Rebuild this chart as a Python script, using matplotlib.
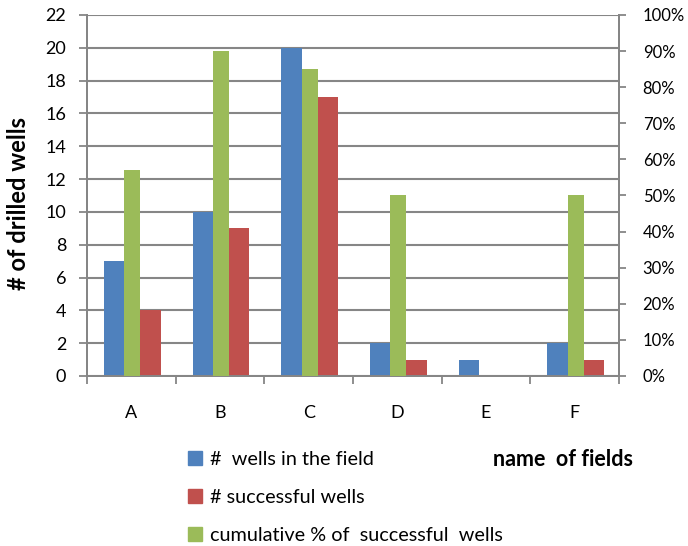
import matplotlib.pyplot as plt
import numpy as np
from matplotlib.patches import Patch

plt.rcParams['font.family'] = ['Lato', 'DejaVu Sans']

fields = ['A', 'B', 'C', 'D', 'E', 'F']
wells_in_field = [7, 10, 20, 2, 1, 2]
successful_wells = [4, 9, 17, 1, 0, 1]
success_pct = [57.1, 90.0, 85.0, 50.0, 0.0, 50.0]

blue = '#4F81BD'
red = '#C0504D'
green = '#9BBB59'
gray = '#868686'

fig = plt.figure(figsize=(6.88, 5.46), dpi=100)
ax = fig.add_axes([0.1265, 0.3114, 0.7733, 0.6612])
ax2 = ax.twinx()

x = np.arange(len(fields))

ax.bar(x - 0.195, wells_in_field, width=0.23, color=blue, zorder=3)
ax.bar(x + 0.215, successful_wells, width=0.23, color=red, zorder=3)
ax2.bar(x + 0.01, success_pct, width=0.18, color=green, zorder=3)

ax.set_xlim(-0.5, len(fields) - 0.5)
ax.set_ylim(0, 22)
ax.set_yticks(np.arange(0, 23, 2))
ax.yaxis.grid(True, color=gray, linewidth=1.5, zorder=0)
ax.set_axisbelow(True)

ax2.set_ylim(0, 100)
ax2.set_yticks(np.arange(0, 101, 10))
ax2.set_yticklabels([f'{v}%' for v in range(0, 101, 10)])

# category ticks sit at the boundaries between fields
ax.set_xticks(np.arange(-0.5, len(fields), 1.0))
ax.set_xticklabels([])
ax.set_xticks(x, minor=True)
ax.set_xticklabels(fields, minor=True)
ax.tick_params(axis='x', which='minor', length=0, pad=21, labelsize=13)
ax.tick_params(axis='x', which='major', length=6, color=gray, width=1.3)
ax.tick_params(axis='y', length=6, color=gray, width=1.3, labelsize=13, pad=9)
ax2.tick_params(axis='y', length=5, color=gray, width=1.3, labelsize=12, pad=12)

for a in (ax, ax2):
    a.spines['top'].set_visible(False)
    for s in ('left', 'right', 'bottom'):
        a.spines[s].set_color(gray)
        a.spines[s].set_linewidth(1.4)

fig.text(0.027, 0.627, '# of drilled wells', fontsize=17, fontweight='bold',
         rotation=90, ha='center', va='center')

fig.text(0.717, 0.158, 'name  of fields', fontsize=15.5, fontweight='bold',
         ha='left', va='center')

handles = [Patch(color=blue), Patch(color=red), Patch(color=green)]
labels = ['#  wells in the field', '# successful wells',
          'cumulative % of  successful  wells']
fig.legend(handles, labels, loc='upper left', bbox_to_anchor=(0.262, 0.188),
           frameon=False, fontsize=14.3, handlelength=0.7, handleheight=0.7,
           handletextpad=0.4, labelspacing=1.05, borderaxespad=0)

fig.savefig('out.png', dpi=100)
